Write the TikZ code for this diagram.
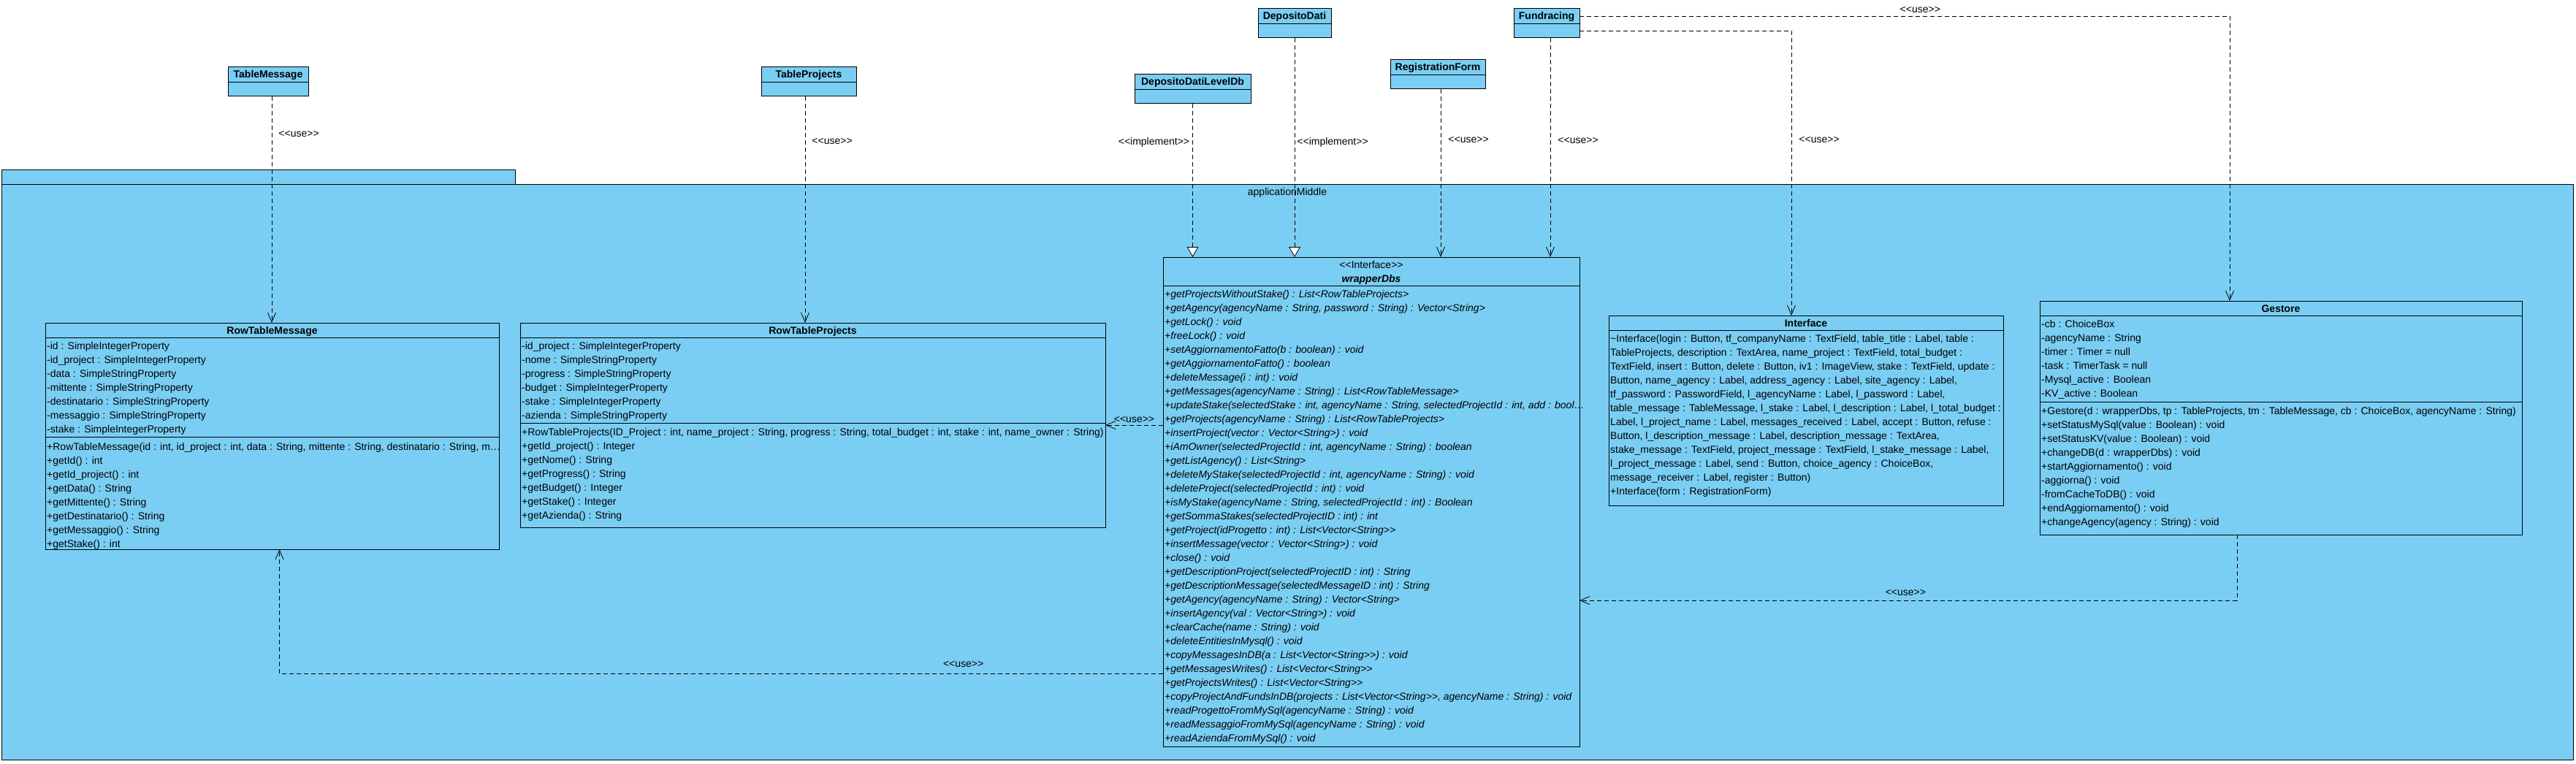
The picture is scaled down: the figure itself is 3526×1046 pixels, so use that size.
\documentclass[tikz,border=0pt]{standalone}
\usepackage{fontspec}
\setmainfont{Liberation Sans}[Ligatures=TeXOff]
\usetikzlibrary{arrows.meta,positioning,calc}
\definecolor{umlblue}{RGB}{122,206,244}

\begin{document}
\begin{tikzpicture}[x=1pt,y=-1pt,
  cls/.style={draw,fill=umlblue,line width=1pt,inner sep=0pt,outer sep=0pt,anchor=north west},
  ctitle/.style={font=\fontsize{14}{17}\selectfont\bfseries,anchor=base,inner sep=0pt},
  mem/.style={font=\fontsize{14}{17}\selectfont,anchor=base west,inner sep=0pt},
  op/.style={mem,font=\fontsize{14}{17}\selectfont\itshape},
  lbl/.style={font=\fontsize{14}{17}\selectfont,inner sep=0pt},
  dep/.style={line width=0.8pt,dash pattern=on 6pt off 4pt,-{Straight Barb[length=13pt,width=11pt,line width=0.8pt]}},
  impl/.style={line width=0.8pt,dash pattern=on 6pt off 4pt,-{Triangle[open,fill=white,length=14pt,width=16pt,line width=0.8pt]}}]
\path[fill=white,use as bounding box] (0,0) rectangle (3526,1046);

% package
\node[cls,minimum width=703pt,minimum height=20pt] (pkgtab) at (2,232) {};
\node[cls,minimum width=3520pt,minimum height=788pt] (pkg) at (2,252) {};
\node[lbl,anchor=base] (pkgname) at (1762,267) {applicationMiddle};

% outside classes
\node[cls,minimum width=110pt,minimum height=40pt] (tmsg) at (312,92) {};
\node[ctitle] (tmsgT) at (367,107) {TableMessage};
\draw ($(tmsg.north west)+(0,20)$) -- ($(tmsg.north east)+(0,20)$);
\node[cls,minimum width=130pt,minimum height=40pt] (tprj) at (1042,92) {};
\node[ctitle] (tprjT) at (1107,107) {TableProjects};
\draw ($(tprj.north west)+(0,20)$) -- ($(tprj.north east)+(0,20)$);
\node[cls,minimum width=100pt,minimum height=40pt] (ddati) at (1722,12) {};
\node[ctitle] (ddatiT) at (1772,27) {DepositoDati};
\draw ($(ddati.north west)+(0,20)$) -- ($(ddati.north east)+(0,20)$);
\node[cls,minimum width=90pt,minimum height=40pt] (fund) at (2072,12) {};
\node[ctitle] (fundT) at (2117,27) {Fundracing};
\draw ($(fund.north west)+(0,20)$) -- ($(fund.north east)+(0,20)$);
\node[cls,minimum width=130pt,minimum height=40pt] (regf) at (1903,82) {};
\node[ctitle] (regfT) at (1968,97) {RegistrationForm};
\draw ($(regf.north west)+(0,20)$) -- ($(regf.north east)+(0,20)$);
\node[cls,minimum width=159pt,minimum height=40pt] (ddldb) at (1553,102) {};
\node[ctitle] (ddldbT) at (1632.5,117) {DepositoDatiLevelDb};
\draw ($(ddldb.north west)+(0,20)$) -- ($(ddldb.north east)+(0,20)$);

% RowTableMessage
\node[cls,minimum width=621pt,minimum height=310pt] (rtm) at (62,442) {};
\node[ctitle] (rtmT) at (372.5,457) {RowTableMessage};
\draw ($(rtm.north west)+(0,20)$) -- ($(rtm.north east)+(0,20)$);
\draw ($(rtm.north west)+(0,156)$) -- ($(rtm.north east)+(0,156)$);
\foreach \t [count=\i from 0] in {-id : SimpleIntegerProperty,-id\_project : SimpleIntegerProperty,
  -data : SimpleStringProperty,-mittente : SimpleStringProperty,-destinatario : SimpleStringProperty,
  -messaggio : SimpleStringProperty,-stake : SimpleIntegerProperty}
  \node[mem] (rtma\i) at (64,478+19*\i) {\t};
\foreach \t [count=\i from 0] in {{+RowTableMessage(id : int, id\_project : int, data : String, mittente : String, destinatario : String, m\dots},
  +getId() : int,+getId\_project() : int,+getData() : String,+getMittente() : String,
  +getDestinatario() : String,+getMessaggio() : String,+getStake() : int}
  \node[mem] (rtmo\i) at (64,616+19*\i) {\t};

% RowTableProjects
\node[cls,minimum width=801pt,minimum height=280pt] (rtp) at (712,442) {};
\node[ctitle] (rtpT) at (1112.5,457) {RowTableProjects};
\draw ($(rtp.north west)+(0,20)$) -- ($(rtp.north east)+(0,20)$);
\draw ($(rtp.north west)+(0,137)$) -- ($(rtp.north east)+(0,137)$);
\foreach \t [count=\i from 0] in {-id\_project : SimpleIntegerProperty,-nome : SimpleStringProperty,
  -progress : SimpleStringProperty,-budget : SimpleIntegerProperty,-stake : SimpleIntegerProperty,
  -azienda : SimpleStringProperty}
  \node[mem] (rtpa\i) at (714,478+19*\i) {\t};
\foreach \t [count=\i from 0] in {{+RowTableProjects(ID\_Project : int, name\_project : String, progress : String, total\_budget : int, stake : int, name\_owner : String)},
  +getId\_project() : Integer,+getNome() : String,+getProgress() : String,+getBudget() : Integer,
  +getStake() : Integer,+getAzienda() : String}
  \node[mem] (rtpo\i) at (714,596+19*\i) {\t};

% wrapperDbs
\node[cls,minimum width=570pt,minimum height=670pt] (wdb) at (1592,352) {};
\node[lbl,anchor=base] (wdbS) at (1877,367) {<<Interface>>};
\node[ctitle,font=\fontsize{14}{17}\selectfont\bfseries\itshape] (wdbT) at (1877,386) {wrapperDbs};
\draw ($(wdb.north west)+(0,39)$) -- ($(wdb.north east)+(0,39)$);
\foreach \t [count=\i from 0] in {+getProjectsWithoutStake() : List<RowTableProjects>,
  {+getAgency(agencyName : String, password : String) : Vector<String>},
  +getLock() : void,+freeLock() : void,+setAggiornamentoFatto(b : boolean) : void,
  +getAggiornamentoFatto() : boolean,+deleteMessage(i : int) : void,
  +getMessages(agencyName : String) : List<RowTableMessage>,
  {+updateStake(selectedStake : int, agencyName : String, selectedProjectId : int, add : bool\dots},
  +getProjects(agencyName : String) : List<RowTableProjects>,
  +insertProject(vector : Vector<String>) : void,
  {+iAmOwner(selectedProjectId : int, agencyName : String) : boolean},
  +getListAgency() : List<String>,
  {+deleteMyStake(selectedProjectId : int, agencyName : String) : void},
  +deleteProject(selectedProjectId : int) : void,
  {+isMyStake(agencyName : String, selectedProjectId : int) : Boolean},
  +getSommaStakes(selectedProjectID : int) : int,
  +getProject(idProgetto : int) : List<Vector<String>>,
  +insertMessage(vector : Vector<String>) : void,+close() : void,
  +getDescriptionProject(selectedProjectID : int) : String,
  +getDescriptionMessage(selectedMessageID : int) : String,
  +getAgency(agencyName : String) : Vector<String>,
  +insertAgency(val : Vector<String>) : void,+clearCache(name : String) : void,
  +deleteEntitiesInMysql() : void,+copyMessagesInDB(a : List<Vector<String>>) : void,
  +getMessagesWrites() : List<Vector<String>>,+getProjectsWrites() : List<Vector<String>>,
  {+copyProjectAndFundsInDB(projects : List<Vector<String>>, agencyName : String) : void},
  +readProgettoFromMySql(agencyName : String) : void,
  +readMessaggioFromMySql(agencyName : String) : void,+readAziendaFromMySql() : void}
  \node[op] (wdbo\i) at (1594,407+19*\i) {\t};

% Interface
\node[cls,minimum width=540pt,minimum height=260pt] (itf) at (2202,432) {};
\node[ctitle] (itfT) at (2472,447) {Interface};
\draw ($(itf.north west)+(0,20)$) -- ($(itf.north east)+(0,20)$);
\foreach \t [count=\i from 0] in {{\textasciitilde Interface(login : Button, tf\_companyName : TextField, table\_title : Label, table :},
  {TableProjects, description : TextArea, name\_project : TextField, total\_budget :},
  {TextField, insert : Button, delete : Button, iv1 : ImageView, stake : TextField, update :},
  {Button, name\_agency : Label, address\_agency : Label, site\_agency : Label,},
  {tf\_password : PasswordField, l\_agencyName : Label, l\_password : Label,},
  {table\_message : TableMessage, l\_stake : Label, l\_description : Label, l\_total\_budget :},
  {Label, l\_project\_name : Label, messages\_received : Label, accept : Button, refuse :},
  {Button, l\_description\_message : Label, description\_message : TextArea,},
  {stake\_message : TextField, project\_message : TextField, l\_stake\_message : Label,},
  {l\_project\_message : Label, send : Button, choice\_agency : ChoiceBox,},
  {message\_receiver : Label, register : Button)},
  +Interface(form : RegistrationForm)}
  \node[mem] (itfo\i) at (2204,468+19*\i) {\t};

% Gestore
\node[cls,minimum width=660pt,minimum height=320pt] (ges) at (2792,412) {};
\node[ctitle] (gesT) at (3122,427) {Gestore};
\draw ($(ges.north west)+(0,20)$) -- ($(ges.north east)+(0,20)$);
\draw ($(ges.north west)+(0,138)$) -- ($(ges.north east)+(0,138)$);
\foreach \t [count=\i from 0] in {-cb : ChoiceBox,-agencyName : String,-timer : Timer = null,
  -task : TimerTask = null,-Mysql\_active : Boolean,-KV\_active : Boolean}
  \node[mem] (gesa\i) at (2794,448+19*\i) {\t};
\foreach \t [count=\i from 0] in {{+Gestore(d : wrapperDbs, tp : TableProjects, tm : TableMessage, cb : ChoiceBox, agencyName : String)},
  +setStatusMySql(value : Boolean) : void,+setStatusKV(value : Boolean) : void,
  +changeDB(d : wrapperDbs) : void,+startAggiornamento() : void,-aggiorna() : void,
  -fromCacheToDB() : void,+endAggiornamento() : void,+changeAgency(agency : String) : void}
  \node[mem] (geso\i) at (2794,567+19*\i) {\t};

% connectors
\draw[dep] (tmsg.south) ++(5,0) coordinate (c1) -- (c1 |- rtm.north)
  node[lbl,pos=0.165,anchor=west,xshift=9pt] (u1) {<<use>>};
\draw[dep] (tprj.south) ++(-5,0) coordinate (c2) -- (c2 |- rtp.north)
  node[lbl,pos=0.197,anchor=west,xshift=9pt] (u2) {<<use>>};
\draw[impl] (ddldb.south) -- (ddldb.south |- wdb.north)
  node[lbl,pos=0.25,anchor=east,xshift=-4pt] (u3) {<<implement>>};
\draw[impl] (ddati.south) -- (ddati.south |- wdb.north)
  node[lbl,pos=0.477,anchor=west,xshift=3pt] (u4) {<<implement>>};
\draw[dep] (regf.south) ++(4,0) coordinate (c3) -- (c3 |- wdb.north)
  node[lbl,pos=0.30,anchor=west,xshift=10pt] (u5) {<<use>>};
\draw[dep] (fund.south) ++(5,0) coordinate (c4) -- (c4 |- wdb.north)
  node[lbl,pos=0.467,anchor=west,xshift=10pt] (u6) {<<use>>};
\coordinate (g1) at ([xshift=-70pt]ges.north);
\draw[dep] (fund.east) ++(0,-10) coordinate (c5) -| (g1)
  node[lbl,pos=0.262,above=4pt] (u7) {<<use>>};
\coordinate (i1) at ([xshift=-20pt]itf.north);
\draw[dep] (fund.east) ++(0,10) coordinate (c6) -| (i1)
  node[lbl,pos=0.692,anchor=west,xshift=10pt] (u8) {<<use>>};
\coordinate (w1) at ([yshift=-135pt]wdb.east);
\draw[dep] (ges.south) ++(-60,0) coordinate (c7) |- (w1)
  node[lbl,pos=0.752,above=6pt] (u9) {<<use>>};
\coordinate (w2) at ([yshift=-235pt]wdb.west);
\coordinate (m1) at ([xshift=10pt]rtm.south);
\draw[dep] (w2) -| (m1)
  node[lbl,pos=0.113,above=8pt] (u10) {<<use>>};
\draw[dep] (wdb.west |- rtp.east) -- (rtp.east)
  node[lbl,midway,above=3pt] (u11) {<<use>>};
\end{tikzpicture}
\end{document}
